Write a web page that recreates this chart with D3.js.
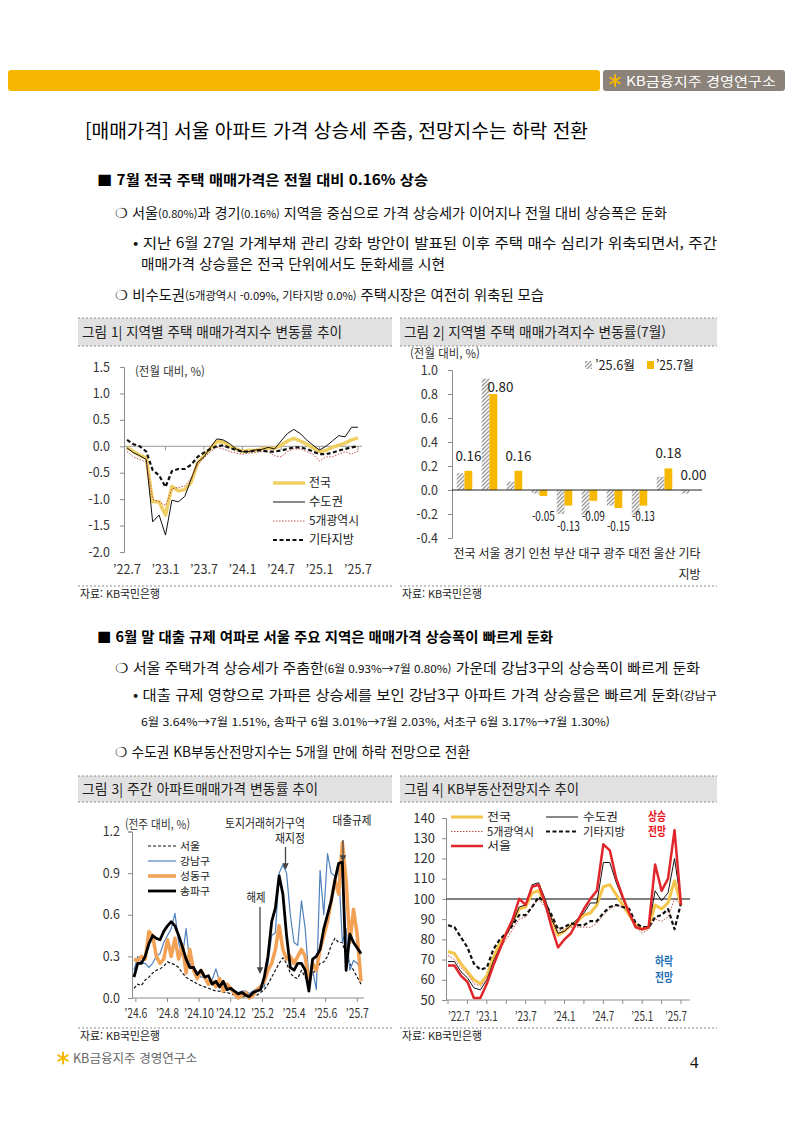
<!DOCTYPE html>
<html lang="ko"><head><meta charset="utf-8">
<script src="https://cdn.jsdelivr.net/npm/d3@7/dist/d3.min.js"></script>
<style>html,body{margin:0;padding:0;background:#fff}svg{display:block;font-family:"Noto Sans CJK KR","Noto Sans",sans-serif}</style>
</head><body><svg id="page" width="793" height="1122"></svg>
<script>
// ---------------- DATA ----------------
// Chart 1: monthly change (%), 2022.7 - 2025.7
const months1Labels = ["’22.7","’23.1","’23.7","’24.1","’24.7","’25.1","’25.7"];
const nation1  = [-0.02,-0.10,-0.17,-0.22,-1.05,-1.05,-1.30,-0.76,-0.84,-0.82,-0.68,-0.32,-0.17,-0.04,0.09,0.08,0.00,-0.05,-0.10,-0.08,-0.08,-0.05,-0.03,-0.04,0.02,0.10,0.15,0.10,0.04,-0.03,-0.10,-0.08,-0.02,0.02,0.06,0.12,0.16];
const capital1 = [-0.03,-0.12,-0.18,-0.25,-1.43,-1.30,-1.68,-1.02,-1.05,-0.95,-0.62,-0.30,-0.20,-0.02,0.14,0.12,0.05,-0.05,-0.10,-0.10,-0.07,-0.06,-0.02,-0.05,0.10,0.24,0.32,0.24,0.12,0.02,-0.07,0.00,0.10,0.20,0.18,0.36,0.36];
const metro1   = [-0.10,-0.20,-0.25,-0.30,-1.00,-1.05,-1.12,-0.80,-0.78,-0.75,-0.60,-0.35,-0.22,-0.10,-0.02,-0.05,-0.10,-0.13,-0.15,-0.13,-0.12,-0.10,-0.10,-0.18,-0.20,-0.10,-0.05,-0.05,-0.10,-0.15,-0.28,-0.20,-0.20,-0.15,-0.10,-0.15,-0.09];
const other1   = [0.12,0.04,0.00,-0.10,-0.45,-0.55,-0.77,-0.47,-0.43,-0.43,-0.35,-0.20,-0.12,-0.05,0.00,0.02,-0.03,-0.07,-0.10,-0.10,-0.08,-0.08,-0.10,-0.10,-0.08,-0.05,-0.02,-0.02,-0.05,-0.10,-0.15,-0.15,-0.12,-0.08,-0.05,-0.02,0.00];

// Chart 2: regional change, June vs July 2025
const regions2 = ["전국","서울","경기","인천","부산","대구","광주","대전","울산","기타지방"];
const regionLines2 = [["전국"],["서울"],["경기"],["인천"],["부산"],["대구"],["광주"],["대전"],["울산"],["기타","지방"]];
const jun2 = [0.14,0.93,0.07,-0.03,-0.20,-0.21,-0.13,-0.21,0.11,-0.03];
const jul2 = [0.16,0.80,0.16,-0.05,-0.13,-0.09,-0.15,-0.13,0.18,0.00];
const series2 = ["’25.6월","’25.7월"];

// Chart 3: weekly apartment price change (%), 2024.6 - 2025.7
const weekLabels3 = ["’24.6","’24.8","’24.10","’24.12","’25.2","’25.4","’25.6","’25.7"];
const weekLabelIdx3 = [0.5, 9, 17.5, 26, 34.5, 43, 51.5, 60];
const seoul3 = [0.07,0.10,0.09,0.13,0.15,0.18,0.20,0.21,0.23,0.26, 0.25,0.24,0.22,0.18,0.15,0.13,0.12,0.10,0.09,0.08, 0.07,0.06,0.05,0.05,0.04,0.04,0.03,0.02,0.01,0.01, 0.01,0.01,0.02,0.02,0.04,0.06,0.10,0.15,0.20,0.25, 0.29,0.25,0.18,0.15,0.14,0.20,0.15,0.12,0.18,0.20, 0.25,0.26,0.30,0.38,0.43,0.40,0.40,0.30,0.25,0.20, 0.15,0.10];
const gangnam3 = [0.20,0.30,0.25,0.25,0.22,0.25,0.30,0.32,0.40,0.45, 0.50,0.61,0.40,0.30,0.50,0.25,0.20,0.18,0.15,0.15, 0.12,0.13,0.21,0.12,0.08,0.10,0.07,0.05,0.04,0.05, 0.05,0.03,0.05,0.07,0.08,0.08,0.25,0.45,0.47,0.90, 0.96,0.90,0.60,0.40,0.38,0.70,0.50,0.15,0.20,0.06, 0.92,0.60,1.04,0.90,0.88,0.92,0.40,0.50,0.20,0.27, 0.25,0.20];
const seongdong3 = [0.28,0.27,0.30,0.28,0.48,0.45,0.30,0.25,0.28,0.42, 0.30,0.43,0.28,0.38,0.18,0.35,0.20,0.14,0.20,0.15, 0.10,0.12,0.08,0.14,0.05,0.10,0.07,0.03,0.00,0.02, 0.04,0.00,0.02,0.06,0.08,0.12,0.20,0.25,0.35,0.52, 0.35,0.28,0.30,0.25,0.30,0.35,0.30,0.10,0.25,0.20, 0.35,0.45,0.55,0.70,0.85,0.75,1.12,0.85,0.40,0.64, 0.45,0.12];
const songpa3 = [0.15,0.25,0.25,0.30,0.39,0.45,0.43,0.42,0.48,0.52, 0.55,0.52,0.45,0.37,0.28,0.22,0.22,0.17,0.20,0.15, 0.16,0.10,0.12,0.08,0.12,0.06,0.07,0.05,0.03,0.04, 0.02,0.01,0.04,0.05,0.06,0.15,0.30,0.55,0.65,0.88, 0.75,0.45,0.22,0.20,0.25,0.25,0.20,0.05,0.28,0.30, 0.35,0.50,0.60,0.70,0.85,0.97,0.98,0.20,0.46,0.40, 0.36,0.32];

// Chart 4: KB real-estate outlook index, 2022.7 - 2025.7
const months4Labels = ["’22.7","’23.1","’23.7","’24.1","’24.7","’25.1","’25.7"];
const nation4  = [74,73,68,64,60,58,62,71,78,83, 89,95,96,103,104,98,90,82,84,87, 89,92,93,97,106,107,102,97,92,87, 85,86,97,95,98,109,97];
const capital4 = [69,69,64,61,56,55,60,69,76,82, 88,96,97,107,108,100,90,83,84,87, 90,93,98,98,118,118,108,100,93,86, 85,86,104,99,103,120,98];
const metro4   = [72,70,66,63,58,57,60,68,75,80, 85,90,91,96,100,96,90,84,85,86, 86,86,86,88,92,95,97,96,93,86, 83,85,90,89,91,100,97];
const other4   = [87,86,81,76,68,65,66,75,80,83, 87,92,92,96,101,98,92,85,86,88, 87,87,89,89,93,96,97,96,95,88, 86,86,91,92,95,85,98];
const seoul4   = [67,67,62,59,51,51,58,67,75,83, 90,100,97,106,107,98,86,76,80,83, 89,95,100,104,127,124,110,101,93,86, 85,86,117,104,110,134,97];

// ---------------- HELPERS ----------------
const svg = d3.select("#page");
svg.append("rect").attr("width",793).attr("height",1122).attr("fill","#fff");

function addText(g, x, y, parts, o = {}) {
  const t = g.append("text").attr("x", x).attr("y", y)
    .attr("font-size", o.size || 13).attr("fill", o.fill || "#111")
    .attr("font-weight", o.weight || "normal")
    .attr("text-anchor", o.anchor || "start");
  if (o.family) t.attr("font-family", o.family);
  if (typeof parts === "string") parts = [[parts]];
  parts.forEach(p => { const s = t.append("tspan").text(p[0]); if (p[1]) s.attr("font-size", p[1]); });
  if (o.len) t.attr("textLength", o.len).attr("lengthAdjust", "spacingAndGlyphs");
  return t;
}
function kbStar(g, cx, cy, r, color) {
  [90, 30, -30].forEach(a => {
    const rad = a * Math.PI / 180;
    g.append("line").attr("x1", cx - r*Math.cos(rad)).attr("y1", cy - r*Math.sin(rad))
      .attr("x2", cx + r*Math.cos(rad)).attr("y2", cy + r*Math.sin(rad))
      .attr("stroke", color).attr("stroke-width", 2).attr("stroke-linecap", "round");
  });
}
function panel(x0, x1, tTop, tBot, title, titleLen, srcY) {
  svg.append("rect").attr("x", x0).attr("y", tTop).attr("width", x1-x0).attr("height", tBot-tTop).attr("fill", "#e1e1e1");
  [tTop, tBot, srcY].forEach(y => svg.append("line").attr("x1", x0).attr("x2", x1).attr("y1", y).attr("y2", y)
    .attr("stroke", "#8a8a8a").attr("stroke-dasharray", "2,2"));
  addText(svg, x0 + 4, (tTop + tBot)/2 + 5, title, {size: 13.5, len: titleLen, fill: "#222"});
  addText(svg, x0 + 2, srcY + 12, "자료: KB국민은행", {size: 11, len: 80, fill: "#222"});
}
function styleAxis(g, size) {
  g.select(".domain").attr("stroke", "#8c8c8c");
  g.selectAll(".tick line").attr("stroke", "#8c8c8c");
  g.selectAll(".tick text").attr("font-size", size || 12).attr("fill", "#333").attr("font-family", "Noto Sans CJK KR");
}
function drawLine(g, data, xs, ys, o) {
  const line = d3.line().x((d, i) => xs(i)).y(d => ys(d));
  const p = g.append("path").datum(data).attr("d", line).attr("fill", "none")
    .attr("stroke", o.color).attr("stroke-width", o.w).attr("stroke-linejoin", "round");
  if (o.dash) p.attr("stroke-dasharray", o.dash);
  return p;
}
function legendItem(g, x1, x2, y, label, o, tx, len, size) {
  const l = g.append("line").attr("x1", x1).attr("x2", x2).attr("y1", y).attr("y2", y)
    .attr("stroke", o.color).attr("stroke-width", o.w);
  if (o.dash) l.attr("stroke-dasharray", o.dash);
  addText(g, tx, y + 4, label, {size: size || 12, fill: "#222", len});
}

// ---------------- HEADER / TEXT ----------------
svg.append("rect").attr("x", 8).attr("y", 70).attr("width", 592).attr("height", 21).attr("rx", 3).attr("fill", "#f6b700");
svg.append("rect").attr("x", 603).attr("y", 70).attr("width", 182).attr("height", 21).attr("rx", 3).attr("fill", "#8b8279");
kbStar(svg, 615, 80.5, 5.5, "#f6b700");
addText(svg, 626, 86, "KB금융지주 경영연구소", {size: 13, fill: "#fff", len: 150});

addText(svg, 85, 138, "[매매가격] 서울 아파트 가격 상승세 주춤, 전망지수는 하락 전환", {size: 19, len: 503, fill: "#000"});

addText(svg, 97, 185, "■ 7월 전국 주택 매매가격은 전월 대비 0.16% 상승", {size: 14, weight: "bold", len: 331, fill: "#000"});
addText(svg, 115, 218, [["❍ 서울"],["(0.80%)", 11],["과 경기"],["(0.16%)", 11],[" 지역을 중심으로 가격 상승세가 이어지나 전월 대비 상승폭은 둔화"]], {size: 14, len: 552});
addText(svg, 133, 248, "• 지난 6월 27일 가계부채 관리 강화 방안이 발표된 이후 주택 매수 심리가 위축되면서, 주간", {size: 14, len: 584});
addText(svg, 141, 269, "매매가격 상승률은 전국 단위에서도 둔화세를 시현", {size: 14, len: 304});
addText(svg, 115, 300, [["❍ 비수도권"],["(5개광역시 -0.09%, 기타지방 0.0%)", 11],[" 주택시장은 여전히 위축된 모습"]], {size: 14, len: 429});

addText(svg, 97, 642, "■ 6월 말 대출 규제 여파로 서울 주요 지역은 매매가격 상승폭이 빠르게 둔화", {size: 14, weight: "bold", len: 456, fill: "#000"});
addText(svg, 115, 673, [["❍ 서울 주택가격 상승세가 주춤한"],["(6월 0.93%→7월 0.80%)", 11],[" 가운데 강남3구의 상승폭이 빠르게 둔화"]], {size: 14, len: 585});
addText(svg, 133, 700, [["• 대출 규제 영향으로 가파른 상승세를 보인 강남3구 아파트 가격 상승률은 빠르게 둔화"],["(강남구", 11]], {size: 14, len: 584});
addText(svg, 141, 726, "6월 3.64%→7월 1.51%, 송파구 6월 3.01%→7월 2.03%, 서초구 6월 3.17%→7월 1.30%)", {size: 11, len: 469});
addText(svg, 115, 757, "❍ 수도권 KB부동산전망지수는 5개월 만에 하락 전망으로 전환", {size: 14, len: 355});

// footer
kbStar(svg, 63, 1058, 5.5, "#f6b700");
addText(svg, 73, 1063, "KB금융지주 경영연구소", {size: 12.5, fill: "#666", len: 124});
addText(svg, 690, 1068, "4", {size: 17, family: "Liberation Serif", fill: "#111"});

// panels
panel(78, 392, 318, 346, "그림 1| 지역별 주택 매매가격지수 변동률 추이", 260, 586);
panel(400, 717, 318, 346, "그림 2| 지역별 주택 매매가격지수 변동률(7월)", 262, 586);
panel(78, 392, 776, 802, "그림 3| 주간 아파트매매가격 변동률 추이", 236, 1028);
panel(400, 717, 776, 802, "그림 4| KB부동산전망지수 추이", 175, 1028);

// ---------------- CHART 1 ----------------
{
  const g = svg.append("g");
  const xs = d3.scaleLinear().domain([0, nation1.length - 1]).range([127, 358]);
  const ys = d3.scaleLinear().domain([-2, 1.5]).range([552, 367]);
  const ax = g.append("g").attr("transform", "translate(124,0)")
    .call(d3.axisLeft(ys).tickValues(d3.range(-2, 1.51, 0.5)).tickFormat(d => d3.format(".1f")(d).replace("−", "-")).tickSize(4).tickPadding(10));
  styleAxis(ax, 12.5);
  g.append("line").attr("x1", 124).attr("x2", 362).attr("y1", ys(0)).attr("y2", ys(0)).attr("stroke", "#9a9a9a");
  months1Labels.forEach((lab, k) => {
    const xi = xs(k * 6);
    g.append("line").attr("x1", xi).attr("x2", xi).attr("y1", ys(0)).attr("y2", ys(0) + 4).attr("stroke", "#9a9a9a");
    addText(g, xi, 574, lab, {size: 12.5, anchor: "middle", fill: "#333"});
  });
  addText(g, 135, 376, "(전월 대비, %)", {size: 12, fill: "#333", len: 70});
  const st = {
    n: {color: "#efcf63", w: 3.5},
    c: {color: "#111", w: 1},
    m: {color: "#c0504d", w: 1, dash: "1.5,1.5"},
    o: {color: "#111", w: 2.2, dash: "4,2.5"}
  };
  drawLine(g, nation1, xs, ys, st.n);
  drawLine(g, capital1, xs, ys, st.c);
  drawLine(g, metro1, xs, ys, st.m);
  drawLine(g, other1, xs, ys, st.o);
  legendItem(g, 273, 305, 483, "전국", st.n, 309, 22);
  legendItem(g, 273, 305, 502, "수도권", st.c, 309, 34);
  legendItem(g, 273, 305, 521, "5개광역시", st.m, 309, 50);
  legendItem(g, 273, 305, 540, "기타지방", st.o, 309, 45);
}

// ---------------- CHART 2 ----------------
{
  const g = svg.append("g");
  const defs = svg.append("defs");
  const pat = defs.append("pattern").attr("id", "hatch").attr("patternUnits", "userSpaceOnUse")
    .attr("width", 4).attr("height", 4);
  pat.append("rect").attr("width", 4).attr("height", 4).attr("fill", "#fff");
  pat.append("path").attr("d", "M-1,1 l2,-2 M0,4 l4,-4 M3,5 l2,-2").attr("stroke", "#9c9c9c").attr("stroke-width", 1.4);
  const xs = d3.scaleBand().domain(regions2).range([452, 702]).paddingInner(0.38).paddingOuter(0.19);
  const xsub = d3.scaleBand().domain(series2).range([0, xs.bandwidth()]);
  const ys = d3.scaleLinear().domain([-0.4, 1.0]).range([538, 370]);
  const ax = g.append("g").attr("transform", "translate(452,0)")
    .call(d3.axisLeft(ys).tickValues(d3.range(-0.4, 1.01, 0.2)).tickFormat(d => d3.format(".1f")(d).replace("−", "-")).tickSize(4).tickPadding(10));
  styleAxis(ax, 12.5);
  regions2.forEach((r, i) => {
    const x0 = xs(r);
    const v6 = jun2[i], v7 = jul2[i];
    g.append("rect").attr("x", x0 + xsub(series2[0])).attr("width", xsub.bandwidth())
      .attr("y", ys(Math.max(0, v6))).attr("height", Math.abs(ys(v6) - ys(0))).attr("fill", "url(#hatch)");
    g.append("rect").attr("x", x0 + xsub(series2[1])).attr("width", xsub.bandwidth())
      .attr("y", ys(Math.max(0, v7))).attr("height", Math.abs(ys(v7) - ys(0))).attr("fill", "#f6b800");
    const cx = x0 + xsub(series2[1]) + xsub.bandwidth() / 2;
    const neg = v7 < 0;
    const ly = neg ? ys(0) + (i % 2 === 1 ? 31 : 41) : (i === 1 ? ys(v7) - 2 : ys(v7) - 10);
    addText(g, cx + (i === 1 ? 7 : 0), ly, d3.format(".2f")(v7).replace("−", "-"),
      {size: neg ? 12.5 : 13, anchor: "middle", fill: "#222", len: neg ? 23 : 26});
    regionLines2[i].forEach((ln, j) => addText(g, x0 + xs.bandwidth()/2, 558 + j * 21, ln, {size: 12.5, anchor: "middle", fill: "#222", len: 22}));
  });
  g.append("line").attr("x1", 452).attr("x2", 702).attr("y1", ys(0)).attr("y2", ys(0)).attr("stroke", "#222");
  addText(g, 410, 358, "(전월 대비, %)", {size: 12, fill: "#333", len: 70});
  g.append("rect").attr("x", 585).attr("y", 361).attr("width", 7).attr("height", 8).attr("fill", "url(#hatch)");
  addText(g, 595, 370, series2[0], {size: 12.5, fill: "#222", len: 40});
  g.append("rect").attr("x", 647).attr("y", 361).attr("width", 7).attr("height", 8).attr("fill", "#f6b800");
  addText(g, 656, 370, series2[1], {size: 12.5, fill: "#222", len: 38});
}

// ---------------- CHART 3 ----------------
{
  const g = svg.append("g");
  const xs = d3.scaleLinear().domain([0, songpa3.length - 1]).range([134, 361]);
  const ys = d3.scaleLinear().domain([0, 1.2]).range([998, 831.5]);
  const ax = g.append("g").attr("transform", "translate(132,0)")
    .call(d3.axisLeft(ys).tickValues([0, 0.3, 0.6, 0.9, 1.2]).tickFormat(d3.format(".1f")).tickSize(4).tickPadding(8));
  styleAxis(ax, 12.5);
  g.append("line").attr("x1", 132).attr("x2", 364).attr("y1", ys(0)).attr("y2", ys(0)).attr("stroke", "#8c8c8c");
  weekLabels3.forEach((lab, k) => {
    const xi = xs(weekLabelIdx3[k]);
    g.append("line").attr("x1", xi).attr("x2", xi).attr("y1", ys(0)).attr("y2", ys(0) + 4).attr("stroke", "#8c8c8c");
    addText(g, xi, 1018, lab, {size: 12.5, anchor: "middle", fill: "#333", len: lab.length > 5 ? 30 : 23});
  });
  addText(g, 125, 829, "(전주 대비, %)", {size: 12, fill: "#333", len: 65});
  const st = {
    s: {color: "#111", w: 1.2, dash: "3,2"},
    g: {color: "#4f81bd", w: 1.2},
    d: {color: "#f2a155", w: 3.5},
    p: {color: "#000", w: 2.8}
  };
  drawLine(g, seoul3, xs, ys, st.s);
  drawLine(g, gangnam3, xs, ys, st.g);
  drawLine(g, seongdong3, xs, ys, st.d);
  drawLine(g, songpa3, xs, ys, st.p);
  legendItem(g, 148, 176, 846, "서울", st.s, 180, 20, 10.5);
  legendItem(g, 148, 176, 861, "강남구", st.g, 180, 30, 10.5);
  legendItem(g, 148, 176, 876, "성동구", st.d, 180, 30, 10.5);
  legendItem(g, 148, 176, 891, "송파구", st.p, 180, 30, 10.5);
  // annotations
  const defs = svg.append("defs");
  defs.append("marker").attr("id", "arr").attr("viewBox", "0 0 10 10").attr("refX", 9).attr("refY", 5)
    .attr("markerWidth", 5).attr("markerHeight", 6).attr("orient", "auto")
    .append("path").attr("d", "M0,0 L10,5 L0,10 z").attr("fill", "#444");
  addText(g, 265, 828, "토지거래허가구역", {size: 12, anchor: "middle", fill: "#222", len: 80});
  addText(g, 290, 843, "재지정", {size: 12, anchor: "middle", fill: "#222", len: 30});
  addText(g, 352, 825, "대출규제", {size: 12, anchor: "middle", fill: "#222", len: 39});
  addText(g, 256, 902, "해제", {size: 12, anchor: "middle", fill: "#222", len: 19});
  [[285.5, 847, 869], [343, 840, 861], [260, 907, 973]].forEach(a =>
    g.append("line").attr("x1", a[0]).attr("x2", a[0]).attr("y1", a[1]).attr("y2", a[2])
      .attr("stroke", "#444").attr("stroke-width", 1.3).attr("marker-end", "url(#arr)"));
}

// ---------------- CHART 4 ----------------
{
  const g = svg.append("g");
  const xs = d3.scaleLinear().domain([0, nation4.length - 1]).range([448, 681]);
  const ys = d3.scaleLinear().domain([50, 140]).range([1000, 818]);
  const ax = g.append("g").attr("transform", "translate(446,0)")
    .call(d3.axisLeft(ys).tickValues(d3.range(50, 141, 10)).tickSize(4).tickPadding(7));
  styleAxis(ax, 13);
  g.append("line").attr("x1", 446).attr("x2", 690).attr("y1", ys(50)).attr("y2", ys(50)).attr("stroke", "#8c8c8c");
  for (let i = 0; i < nation4.length; i += 3) {
    g.append("line").attr("x1", xs(i)).attr("x2", xs(i)).attr("y1", ys(50)).attr("y2", ys(50) + 4).attr("stroke", "#8c8c8c");
  }
  months4Labels.forEach((lab, k) => {
    const last = months4Labels.length - 1;
    const xi = xs(k * 6) + (k === 0 ? 11 : (k === last ? -5 : 0));
    addText(g, xi, 1021, lab, {size: 12.5, anchor: "middle", fill: "#333", len: 22});
  });
  g.append("line").attr("x1", 446).attr("x2", 690).attr("y1", ys(100)).attr("y2", ys(100)).attr("stroke", "#555").attr("stroke-width", 1.5);
  const st = {
    n: {color: "#f4c54a", w: 3},
    c: {color: "#111", w: 1},
    m: {color: "#c0504d", w: 1, dash: "1.5,1.5"},
    o: {color: "#111", w: 2.2, dash: "4,2.5"},
    s: {color: "#e0262b", w: 2.5}
  };
  drawLine(g, nation4, xs, ys, st.n);
  drawLine(g, capital4, xs, ys, st.c);
  drawLine(g, metro4, xs, ys, st.m);
  drawLine(g, other4, xs, ys, st.o);
  drawLine(g, seoul4, xs, ys, st.s);
  legendItem(g, 451, 483, 817, "전국", st.n, 487, 24, 11.5);
  legendItem(g, 546, 578, 817, "수도권", st.c, 583, 35, 11.5);
  legendItem(g, 451, 483, 831.5, "5개광역시", st.m, 487, 47, 11.5);
  legendItem(g, 546, 578, 831.5, "기타지방", st.o, 583, 42, 11.5);
  legendItem(g, 451, 483, 846, "서울", st.s, 487, 24, 11.5);
  addText(g, 657, 821, "상승", {size: 12, weight: "bold", anchor: "middle", fill: "#e8141b", len: 18});
  addText(g, 657, 836, "전망", {size: 12, weight: "bold", anchor: "middle", fill: "#e8141b", len: 18});
  addText(g, 664, 966, "하락", {size: 12, weight: "bold", anchor: "middle", fill: "#1f6fb5", len: 18});
  addText(g, 664, 982, "전망", {size: 12, weight: "bold", anchor: "middle", fill: "#1f6fb5", len: 18});
}
</script></body></html>
